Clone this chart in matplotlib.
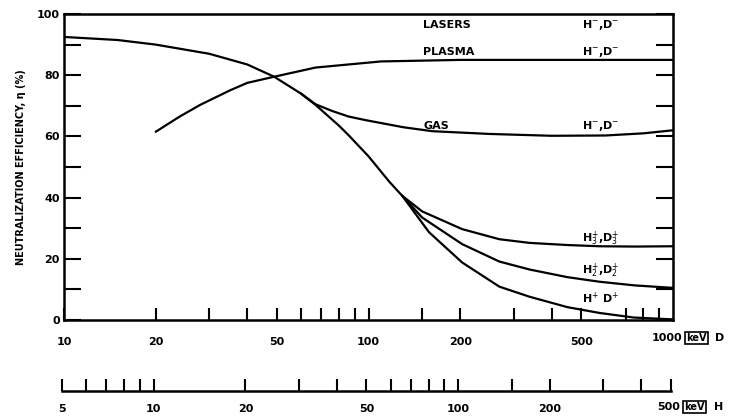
import matplotlib
matplotlib.use("Agg")
import matplotlib.pyplot as plt
from matplotlib.ticker import FixedLocator, NullFormatter, NullLocator

# ---- data (energy in keV for D, efficiency in %) ----
hp_D = [10, 15, 20, 30, 40, 49, 60, 67, 80, 86, 100, 117, 129, 158, 203, 269, 338, 450, 574, 744, 1000]
hp_eta = [92.5, 91.5, 90.0, 87.0, 83.5, 79.5, 74.0, 70.3, 63.5, 60.4, 53.5, 45.2, 40.6, 28.7, 18.8, 10.9, 7.6, 4.2, 2.3, 0.8, 0.2]

h2_D = [129, 150, 203, 269, 338, 450, 574, 750, 1000]
h2_eta = [40.6, 33.5, 24.8, 19.1, 16.5, 14.0, 12.5, 11.3, 10.5]

h3_D = [129, 150, 203, 269, 338, 450, 574, 750, 1000]
h3_eta = [40.6, 35.5, 29.7, 26.4, 25.2, 24.5, 24.1, 24.0, 24.1]

gas_D = [60, 67, 76, 86, 98, 130, 162, 250, 400, 600, 800, 1000]
gas_eta = [74.0, 70.5, 68.3, 66.5, 65.3, 63.0, 61.7, 60.8, 60.2, 60.3, 61.0, 62.0]

plasma_D = [20, 24, 28, 35, 40, 49, 67, 110, 200, 400, 1000]
plasma_eta = [61.5, 66.5, 70.3, 75.0, 77.5, 79.5, 82.5, 84.5, 85.0, 85.0, 85.0]

d_ticks = [10, 20, 50, 100, 200, 500]
d_minor = [30, 40, 60, 70, 80, 90, 150, 300, 400, 700, 800, 900]
h_ticks = [5, 10, 20, 50, 100, 200]
h_minor = [6, 7, 8, 9, 30, 40, 60, 70, 80, 90, 150, 300, 400, 500]
y_major = [0, 20, 40, 60, 80, 100]
y_minor = [10, 30, 50, 70, 90]

FW, FH = 731, 416
fig = plt.figure(figsize=(FW / 100, FH / 100), dpi=100)
plt.rcParams['font.family'] = ['DejaVu Sans']


def px(x, y):
    return x / FW, (FH - y) / FH


L, R, T, B = 64, 673, 14, 320
ax = fig.add_axes([L / FW, (FH - B) / FH, (R - L) / FW, (B - T) / FH])
ax.set_xscale('log')
ax.set_xlim(10, 1000)
ax.set_ylim(0, 100)

lw = 1.6
for xs, ys in [(hp_D, hp_eta), (h2_D, h2_eta), (h3_D, h3_eta), (gas_D, gas_eta), (plasma_D, plasma_eta)]:
    ax.plot(xs, ys, color='black', lw=lw, solid_capstyle='round')

for s in ax.spines.values():
    s.set_linewidth(1.8)

ax.xaxis.set_major_locator(FixedLocator(d_ticks))
ax.xaxis.set_minor_locator(FixedLocator(d_minor))
ax.xaxis.set_minor_formatter(NullFormatter())
ax.set_xticklabels([str(t) for t in d_ticks])
ax.yaxis.set_major_locator(FixedLocator(y_major))
ax.yaxis.set_minor_locator(FixedLocator(y_minor))
ax.set_yticklabels([str(t) for t in y_major])
ax.tick_params(axis='both', which='both', direction='in', width=1.5, labelsize=8)
ax.tick_params(axis='x', which='both', length=9, pad=12)
ax.tick_params(axis='y', which='both', length=12, pad=3, right=True)
for lab in ax.get_xticklabels() + ax.get_yticklabels():
    lab.set_fontweight('bold')

txt_kw = dict(fontsize=8, fontweight='bold', va='center')
fig.text(*px(682, 338), '1000', ha='right', **txt_kw)
fig.text(*px(686, 338), 'keV', ha='left', fontsize=7, fontweight='bold', va='center',
         bbox=dict(boxstyle='square,pad=0.15', fc='white', ec='black', lw=1.2))
fig.text(*px(715, 338), 'D', ha='left', **txt_kw)

ax.set_ylabel('NEUTRALIZATION EFFICIENCY, η (%)', fontsize=7, fontweight='bold', labelpad=8)

# curve labels
lab_kw = dict(fontsize=8, fontweight='bold', va='center')
ax.text(100 * 10 ** 0.18, 96.5, 'LASERS', **lab_kw)
ax.text(100 * 10 ** 0.18, 87.5, 'PLASMA', **lab_kw)
ax.text(100 * 10 ** 0.18, 63.5, 'GAS', **lab_kw)
for yv in (96.5, 87.5, 63.5):
    ax.text(100 * 10 ** 0.70, yv, 'H$^{-}$,D$^{-}$', **lab_kw)
ax.text(100 * 10 ** 0.70, 26.5, 'H$_3^{+}$,D$_3^{+}$', **lab_kw)
ax.text(100 * 10 ** 0.70, 16.2, 'H$_2^{+}$,D$_2^{+}$', **lab_kw)
ax.text(100 * 10 ** 0.70, 7.0, 'H$^{+}$ D$^{+}$', **lab_kw)

# secondary energy axis for H
yb = 391
ax2 = fig.add_axes([62 / FW, (FH - yb) / FH, (671 - 62) / FW, 0.0001])
ax2.set_xscale('log')
ax2.set_xlim(5, 500)
ax2.yaxis.set_major_locator(NullLocator())
for k in ('top', 'left', 'right'):
    ax2.spines[k].set_visible(False)
ax2.spines['bottom'].set_linewidth(1.8)
ax2.xaxis.set_major_locator(FixedLocator(h_ticks))
ax2.xaxis.set_minor_locator(FixedLocator(h_minor))
ax2.xaxis.set_minor_formatter(NullFormatter())
ax2.set_xticklabels([str(t) for t in h_ticks])
ax2.tick_params(axis='x', which='both', direction='in', length=9, width=1.5, labelsize=8, pad=9)
for lab in ax2.get_xticklabels():
    lab.set_fontweight('bold')
fig.text(*px(680, 407), '500', ha='right', **txt_kw)
fig.text(*px(684, 407), 'keV', ha='left', fontsize=7, fontweight='bold', va='center',
         bbox=dict(boxstyle='square,pad=0.15', fc='white', ec='black', lw=1.2))
fig.text(*px(714, 407), 'H', ha='left', **txt_kw)

fig.savefig('out.png', dpi=100)
